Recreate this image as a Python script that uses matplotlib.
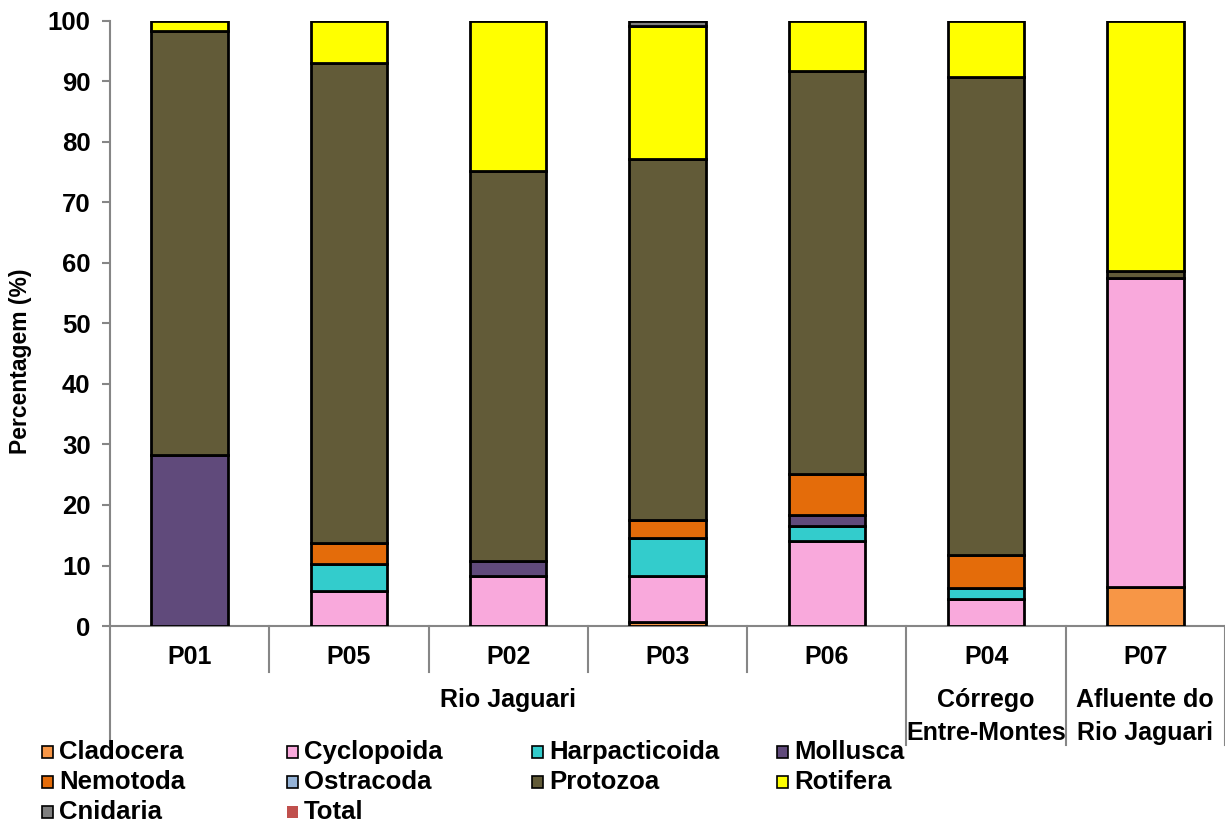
import matplotlib
matplotlib.use("Agg")
import matplotlib.pyplot as plt
from matplotlib.patches import Rectangle
import numpy as np

plt.rcParams['font.family'] = ['Liberation Sans', 'DejaVu Sans']
plt.rcParams['font.weight'] = 'bold'

# Data (percent per sampling point)
sites = ['P01', 'P05', 'P02', 'P03', 'P06', 'P04', 'P07']
groups = ['Cladocera', 'Cyclopoida', 'Harpacticoida', 'Mollusca', 'Nemotoda',
          'Ostracoda', 'Protozoa', 'Rotifera', 'Cnidaria', 'Total']
cladocera = [0.0, 0.0, 0.0, 0.6, 0.0, 0.0, 6.5]
cyclopoida = [0.0, 5.8, 8.3, 7.7, 14.0, 4.5, 51.0]
harpacticoida = [0.0, 4.5, 0.0, 6.2, 2.5, 1.7, 0.0]
mollusca = [28.3, 0.0, 2.4, 0.0, 1.8, 0.0, 0.0]
nemotoda = [0.0, 3.5, 0.0, 3.1, 6.9, 5.5, 0.0]
ostracoda = [0.0, 0.0, 0.0, 0.0, 0.0, 0.0, 0.0]
protozoa = [70.0, 79.3, 64.5, 59.6, 66.6, 79.0, 1.2]
rotifera = [1.7, 6.9, 24.8, 22.0, 8.2, 9.3, 41.3]
cnidaria = [0.0, 0.0, 0.0, 0.8, 0.0, 0.0, 0.0]

regions = ['Rio Jaguari', 'Córrego\nEntre-Montes', 'Afluente do\nRio Jaguari']
region_sites = [5, 1, 1]

colors = ['#F79646', '#F9A9DC', '#33CCCC', '#604A7B', '#E46C0A',
          '#95B3D7', '#625B38', '#FFFF00', '#808080', '#C0504D']

series = [cladocera, cyclopoida, harpacticoida, mollusca, nemotoda,
          ostracoda, protozoa, rotifera, cnidaria]

fig = plt.figure(figsize=(12.25, 8.22), dpi=100)
ax = fig.add_axes([110 / 1225, 1 - 626 / 822, 1 - 110 / 1225, 605 / 822])

x = np.arange(len(sites))
bottom = np.zeros(len(sites))
for name, vals, col in zip(groups, series, colors):
    vals = np.array(vals)
    mask = vals > 0
    ax.bar(x[mask], vals[mask], 0.48, bottom=bottom[mask], color=col,
           edgecolor='black', linewidth=2.0, label=name, zorder=3)
    bottom += vals

ax.set_xlim(-0.5, len(sites) - 0.5)
ax.set_ylim(0, 100)
ax.set_yticks(np.arange(0, 101, 10))
ax.tick_params(axis='y', labelsize=18.5, length=6, color='#868686', width=1.5, pad=8)
ax.set_xticks([])
for s in ['top', 'right']:
    ax.spines[s].set_visible(False)
for s in ['left', 'bottom']:
    ax.spines[s].set_color('#868686')
    ax.spines[s].set_linewidth(1.5)
ax.set_ylabel('Percentagem (%)', fontsize=16.5, fontweight='bold')
ax.yaxis.set_label_coords(-0.070, 0.438)

# multi-level category axis
trans = ax.get_xaxis_transform()
for i, s in enumerate(sites):
    ax.text(i, -0.052, s, transform=trans, ha='center', va='center', fontsize=18)
line_kw = dict(transform=trans, color='#868686', linewidth=1.5, clip_on=False)
ax.plot([-0.5, -0.5], [0, -0.197], **line_kw)
start = 0
for reg, n in zip(regions, region_sites):
    for k in range(start, start + n - 1):
        ax.plot([k + 0.5, k + 0.5], [0, -0.076], **line_kw)
    end = start + n
    ax.plot([end - 0.5, end - 0.5], [0, -0.197], **line_kw)
    ax.text((start + end - 1) / 2, -0.122 if n > 1 else -0.15, reg, transform=trans,
            ha='center', va='center', fontsize=18, linespacing=1.45)
    start = end

# legend laid out row by row, 4 columns
for i, (name, col) in enumerate(zip(groups, colors)):
    row, c = divmod(i, 4)
    px = 42 + c * 245
    py = 752 + row * 30
    ec = 'none' if name == 'Total' else 'black'
    fig.patches.append(Rectangle((px / 1225, 1 - (py + 6) / 822), 11 / 1225, 12 / 822,
                                 transform=fig.transFigure, facecolor=col,
                                 edgecolor=ec, linewidth=1.2))
    fig.text((px + 17) / 1225, 1 - py / 822, name, ha='left', va='center', fontsize=18.5)

fig.savefig('out.png', dpi=100)
